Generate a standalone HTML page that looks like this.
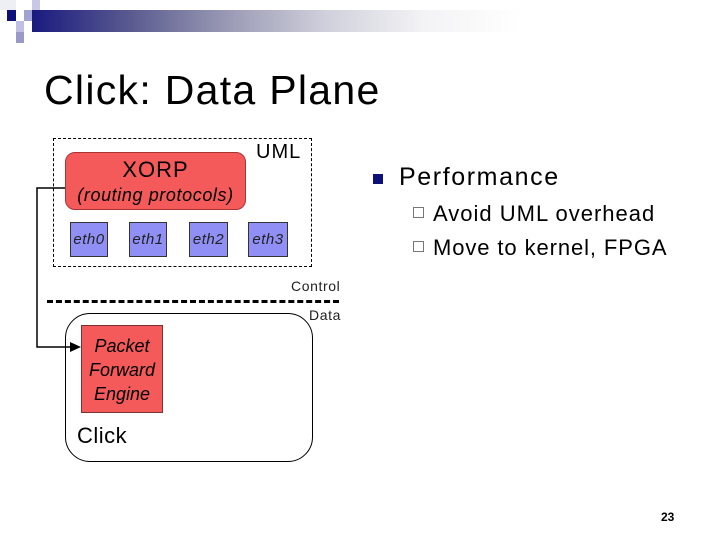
<!DOCTYPE html>
<html><head><style>
body{margin:0;width:720px;height:540px;background:#fff;position:relative;overflow:hidden;font-family:"Liberation Sans",sans-serif}
div{position:absolute;box-sizing:border-box}
.eth{background:#8f8ff5;border:1px solid #333;font-style:italic;font-size:15px;text-align:center;line-height:33px;color:#222;letter-spacing:0.5px}
</style></head><body>
<div style="left:32px;top:10px;width:490px;height:22px;background:linear-gradient(90deg,#1a1a80,#5a5a90 20%,#9a9ab5 40%,#d0d0dc 60%,#f3f3f5 80%,#fff)"></div>
<div style="left:0;top:0;width:16px;height:10px;background:#eeeef5"></div>
<div style="left:32px;top:0;width:8px;height:10px;background:#c8c8e6"></div>
<div style="left:7px;top:10px;width:9px;height:11px;background:#10107a"></div>
<div style="left:24px;top:10px;width:8px;height:11px;background:#a0a2d4"></div>
<div style="left:16px;top:21px;width:8px;height:11px;background:#c0c0e6"></div>
<div style="left:16px;top:32px;width:8px;height:11px;background:#9a9ac8"></div>
<div style="left:44px;top:67px;font-size:41px;color:#000;white-space:nowrap;letter-spacing:1.3px">Click: Data Plane</div>

<div style="left:53px;top:138px;width:259px;height:129px;border:1px dashed #000"></div>
<div style="left:256px;top:141px;font-size:20px;letter-spacing:1px">UML</div>
<div style="left:65px;top:152px;width:181px;height:58px;background:#f55a5a;border:1px solid #a33;border-radius:10px;text-align:center">
<div style="left:0;width:100%;top:4px;font-size:22px;letter-spacing:1px">XORP</div>
<div style="left:0;width:100%;top:32px;font-size:18px;font-style:italic;letter-spacing:0.6px">(routing protocols)</div></div>
<div class="eth" style="left:70px;top:222px;width:38px;height:35px">eth0</div>
<div class="eth" style="left:129px;top:222px;width:38px;height:35px">eth1</div>
<div class="eth" style="left:189px;top:222px;width:39px;height:35px">eth2</div>
<div class="eth" style="left:248px;top:222px;width:40px;height:35px">eth3</div>
<div style="left:291px;top:278px;font-size:14px;color:#222;letter-spacing:0.6px">Control</div>
<div style="left:47px;top:300px;width:292px;height:0;border-top:3px dashed #000"></div>
<div style="left:309px;top:307px;font-size:14px;color:#222;letter-spacing:0.6px">Data</div>
<div style="left:65px;top:313px;width:248px;height:149px;border:1px solid #000;border-radius:25px"></div>
<div style="left:81px;top:325px;width:82px;height:88px;background:#f55a5a;border:1px solid #733;font-style:italic;font-size:18px;text-align:center;line-height:24px;padding-top:8px">Packet<br>Forward<br>Engine</div>
<div style="left:77px;top:423px;font-size:22px;letter-spacing:0.5px">Click</div>
<svg style="position:absolute;left:0;top:0" width="720" height="540">
<polyline points="65,188 37,188 37,347 72,347" fill="none" stroke="#000" stroke-width="1.5"/>
<polygon points="81,347 70,342 70,352" fill="#000"/>
</svg>
<div style="left:373px;top:174px;width:10px;height:10px;background:#10107a"></div>
<div style="left:399px;top:163px;font-size:25px;letter-spacing:1.6px">Performance</div>
<div style="left:413px;top:207px;width:11px;height:11px;border:1px solid #777"></div>
<div style="left:433px;top:201px;font-size:22px;letter-spacing:1px">Avoid UML overhead</div>
<div style="left:413px;top:241px;width:11px;height:11px;border:1px solid #777"></div>
<div style="left:433px;top:235px;font-size:22px;letter-spacing:0.9px">Move to kernel, FPGA</div>
<div style="left:661px;top:510px;font-size:12px;font-weight:bold">23</div>
</body></html>
